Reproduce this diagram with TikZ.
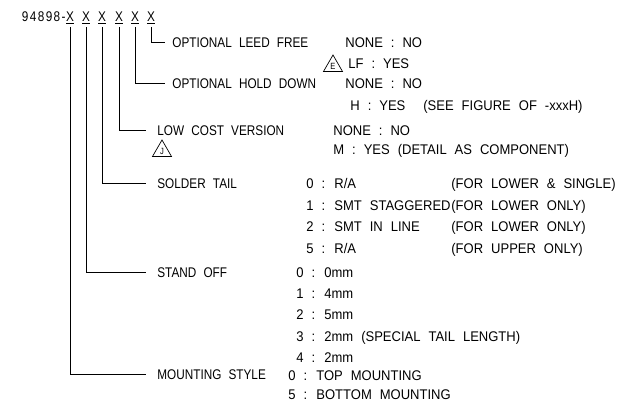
\documentclass[tikz,border=0pt]{standalone}
\usepackage{fontspec}
\setmainfont{Liberation Sans}[FakeStretch=0.84, WordSpace=2.2]
\newfontfamily\optfont{Liberation Sans}[FakeStretch=0.93, WordSpace=2.2]
\usetikzlibrary{shapes.geometric}

\begin{document}
\begin{tikzpicture}[x=1pt, y=-1pt, line width=0.8pt,
        every node/.style={font=\fontsize{14}{16}\selectfont, inner sep=0pt, text height=10pt, text depth=0pt},
        lbl/.style={anchor=west},
        opt/.style={anchor=west, font=\fontsize{14}{16}\optfont},
        lead/.style={draw, shorten <=3pt},
        rev/.style={draw, regular polygon, regular polygon sides=3, minimum size=22pt,
            inner sep=0pt, line width=0.7pt, text height=, text depth=, font=\fontsize{9}{9}\selectfont}]
    \useasboundingbox (0,0) rectangle (638,413);
    \node[anchor=base east, font=\fontsize{14}{16}\selectfont\addfontfeatures{LetterSpace=10}] (pn) at (66,21.5) {94898-};
    \foreach \i/\xx in {1/70,2/86,3/102,4/119,5/135,6/151}
        \node[anchor=base, text depth=] (x\i) at (\xx,21.5) {\underline{X}};
    \node[lbl] (leed) at (172,42) {OPTIONAL LEED FREE};
    \node[lbl] (hold) at (172,83) {OPTIONAL HOLD DOWN};
    \node[lbl] (cost) at (157,130) {LOW COST VERSION};
    \node[rev] (revj) at (162,151) {J};
    \node[lbl] (tail) at (157,183) {SOLDER TAIL};
    \node[lbl] (stand) at (157,272) {STAND OFF};
    \node[lbl] (mount) at (157,374) {MOUNTING STYLE};
    \draw[lead, shorten >=7pt] (x6.south) |- (leed.west);
    \draw[lead, shorten >=7pt] (x5.south) |- (hold.west);
    \draw[lead, shorten >=11pt] (x4.south) |- (cost.west);
    \draw[lead, shorten >=11pt] (x3.south) |- (tail.west);
    \draw[lead, shorten >=11pt] (x2.south) |- (stand.west);
    \draw[lead, shorten >=11pt] (x1.south) |- (mount.west);
    \node[opt] (leedn) at (345,42) {NONE : NO};
    \node[rev] (reve) at (333,66) {E};
    \node[opt] (leedy) at (348,63) {LF : YES};
    \node[opt] (holdn) at (345,83) {NONE : NO};
    \node[opt] (holdy) at (350,105) {H : YES\hspace{18pt}(SEE FIGURE OF -xxxH)};
    \node[opt] (costn) at (333,130) {NONE : NO};
    \node[opt] (costy) at (333,149) {M : YES (DETAIL AS COMPONENT)};
    \node[opt] (tail0) at (306,183) {0 : R/A};
    \node[opt] (tail1) at (306,205) {1 : SMT STAGGERED};
    \node[opt] (tail2) at (306,226) {2 : SMT IN LINE};
    \node[opt] (tail5) at (306,248) {5 : R/A};
    \node[opt] (for1) at (tail1.east) {(FOR LOWER ONLY)};
    \node[opt] (for0) at (for1.west |- tail0.west) {(FOR LOWER \& SINGLE)};
    \node[opt] (for2) at (for1.west |- tail2.west) {(FOR LOWER ONLY)};
    \node[opt] (for5) at (for1.west |- tail5.west) {(FOR UPPER ONLY)};
    \node[opt] (stand0) at (296,272) {0 : 0mm};
    \node[opt] (stand1) at (296,293) {1 : 4mm};
    \node[opt] (stand2) at (296,314) {2 : 5mm};
    \node[opt] (stand3) at (296,336) {3 : 2mm (SPECIAL TAIL LENGTH)};
    \node[opt] (stand4) at (296,357) {4 : 2mm};
    \node[opt] (mount0) at (288,375) {0 : TOP MOUNTING};
    \node[opt] (mount5) at (288,394) {5 : BOTTOM MOUNTING};
\end{tikzpicture}
\end{document}
